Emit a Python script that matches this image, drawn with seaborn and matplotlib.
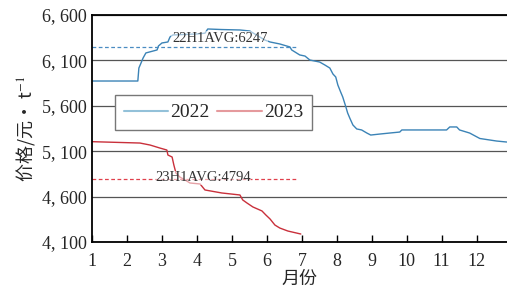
import pandas as pd
import matplotlib.pyplot as plt
import seaborn as sns
from matplotlib.lines import Line2D

# 2022 price curve (month, yuan/t)
months_2022 = [1.00, 2.31, 2.34, 2.40, 2.46, 2.54, 2.86, 2.90, 3.00, 3.17, 3.23, 3.31,
               3.60, 4.00, 4.23, 4.31, 4.70, 5.23, 5.51, 5.94, 6.09, 6.37, 6.66, 6.71,
               6.94, 7.09, 7.23, 7.51, 7.66, 7.80, 7.89, 7.97, 8.03, 8.11, 8.17, 8.26,
               8.31, 8.37, 8.46, 8.57, 8.71, 8.86, 8.97, 9.23, 9.51, 9.80, 9.86, 10.51,
               11.14, 11.23, 11.43, 11.51, 11.80, 12.09, 12.57, 12.86]
price_2022 = [5873, 5873, 6016, 6070, 6126, 6182, 6215, 6259, 6292, 6303, 6358, 6380,
              6385, 6391, 6400, 6446, 6440, 6435, 6424, 6325, 6303, 6281, 6248, 6215,
              6160, 6148, 6104, 6082, 6049, 6016, 5950, 5917, 5829, 5752, 5697, 5587,
              5521, 5466, 5389, 5345, 5334, 5300, 5278, 5289, 5300, 5311, 5334, 5334,
              5334, 5367, 5367, 5334, 5300, 5240, 5212, 5201]

# 2023 price curve
months_2023 = [1.00, 2.37, 2.66, 2.94, 3.14, 3.17, 3.29, 3.34, 3.40, 3.51, 3.66, 3.80,
               4.09, 4.23, 4.71, 5.23, 5.31, 5.43, 5.60, 5.86, 5.97, 6.09, 6.23, 6.37,
               6.60, 6.97]
price_2023 = [5205, 5190, 5168, 5135, 5113, 5058, 5036, 4948, 4860, 4816, 4783, 4750,
              4739, 4673, 4640, 4618, 4563, 4530, 4486, 4442, 4398, 4354, 4287, 4254,
              4221, 4188]

avg_labels = ["22H1AVG:6247", "23H1AVG:4794"]
avg_values = [6247, 4794]

y_ticks = [4100, 4600, 5100, 5600, 6100, 6600]
y_tick_labels = ["4, 100", "4, 600", "5, 100", "5, 600", "6, 100", "6, 600"]
x_ticks = list(range(1, 13))

blue = "#3b83b6"
red = "#c9303b"


def main():
    sns.set_style("ticks")
    plt.rcParams['font.family'] = ['Liberation Serif', 'Noto Sans CJK SC', 'DejaVu Sans']
    plt.rcParams['mathtext.fontset'] = 'stix'

    df22 = pd.DataFrame({'month': months_2022, 'price': price_2022})
    df23 = pd.DataFrame({'month': months_2023, 'price': price_2023})

    fig = plt.figure(figsize=(5.07, 2.89), dpi=100)
    ax = fig.add_axes([0.1815, 0.1626, 0.818, 0.7855])

    sns.lineplot(data=df22, x='month', y='price', color=blue, lw=1.0, ax=ax,
                 estimator=None, sort=False)
    sns.lineplot(data=df23, x='month', y='price', color=red, lw=1.0, ax=ax,
                 estimator=None, sort=False)

    # half-year averages
    ax.hlines(avg_values[0], 1, 6.86, colors="#4a8cc2", linestyles=(0, (3, 2)), lw=0.9)
    ax.hlines(avg_values[1], 1, 6.86, colors="#e0404c", linestyles=(0, (3, 2)), lw=0.9)
    box = dict(facecolor='white', alpha=0.55, edgecolor='none', pad=0.5)
    ax.text(3.29, 6345, avg_labels[0], fontsize=10.5, va='center', ha='left',
            color='#333333', bbox=box)
    ax.text(2.80, 4805, avg_labels[1], fontsize=10.5, va='center', ha='left',
            color='#333333', bbox=box)

    ax.set_xlim(1, 12.86)
    ax.set_ylim(4100, 6600)
    ax.set_xticks(x_ticks)
    ax.set_xticklabels([str(m) for m in x_ticks], fontsize=13)
    ax.set_yticks(y_ticks)
    ax.set_yticklabels(y_tick_labels, fontsize=13)
    ax.tick_params(axis='x', direction='in', length=5, width=1, color='black', pad=8)
    ax.tick_params(axis='y', length=0, pad=4)
    ax.grid(axis='y', color='#555555', lw=0.9)
    ax.grid(axis='x', visible=False)

    for side in ['left', 'bottom', 'top']:
        ax.spines[side].set_color('black')
        ax.spines[side].set_linewidth(1.3)
    ax.spines['right'].set_visible(False)

    ax.set_xlabel("月份", fontsize=13, family=['Noto Sans CJK SC'], labelpad=0)
    ax.set_ylabel("价格/元· t$^{-1}$", fontsize=13, family=['Noto Sans CJK SC', 'DejaVu Sans'],
                  labelpad=3)

    handles = [Line2D([], [], color="#93c1d9", lw=1.5),
               Line2D([], [], color="#e59a9d", lw=1.5)]
    leg = ax.legend(handles, ['2022', '2023'], loc='lower left', bbox_to_anchor=(0.055, 0.493),
                    ncol=2, fontsize=14, frameon=True, fancybox=False, handlelength=2.3,
                    handletextpad=0.1, columnspacing=0.4, borderpad=0.45, borderaxespad=0)
    leg.get_frame().set_edgecolor('#777777')
    leg.get_frame().set_linewidth(1.0)
    leg.get_frame().set_alpha(1)

    fig.savefig("out.png", dpi=100)
    plt.close(fig)


if __name__ == "__main__":
    main()
